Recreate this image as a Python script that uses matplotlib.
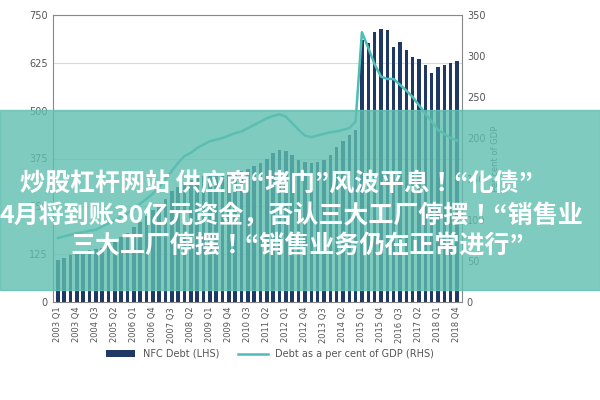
import matplotlib.pyplot as plt
from matplotlib.patches import Rectangle
from matplotlib import font_manager
import numpy as np

quarters = [f"{y} Q{q}" for y in range(2003, 2019) for q in range(1, 5)]

nfc_debt = [110, 115, 122, 128, 132, 135, 138, 140, 150, 160, 170, 180,
            195, 210, 225, 240, 255, 270, 290, 300, 310, 318, 325, 330,
            328, 330, 332, 335, 338, 342, 348, 355, 362, 375, 390, 397,
            395, 385, 372, 366, 362, 365, 372, 385, 405, 420, 436, 450,
            685, 677, 705, 713, 711, 666, 680, 658, 640, 635, 619, 598,
            614, 619, 625, 630]

debt_gdp = [78, 80, 82, 84, 85, 87, 88, 92, 96, 100, 104, 108,
            114, 120, 126, 132, 140, 150, 160, 170, 178, 182, 188, 192,
            196, 198, 200, 203, 206, 208, 212, 216, 220, 224, 227, 229,
            226, 218, 210, 203, 201, 203, 205, 207, 208, 210, 212, 220,
            329, 310, 290, 275, 272, 272, 265, 258, 250, 240, 230, 220,
            210, 205, 200, 197]

tick_idx = list(range(0, 64, 3))

# find a CJK font file
cjk = None
for f in font_manager.findSystemFonts():
    if "NotoSansCJK" in f.replace(" ", "") or "NotoSansSC" in f:
        cjk = f
        if "Bold" in f:
            break
cjk_prop = font_manager.FontProperties(fname=cjk, size=18, weight="bold") if cjk else \
    font_manager.FontProperties(family="Noto Sans CJK SC", size=18, weight="bold")

fig = plt.figure(figsize=(6, 4), dpi=100)
ax = fig.add_axes([0.088, 0.245, 0.682, 0.7175])
x = np.arange(len(quarters))
ax.bar(x, nfc_debt, width=0.55, color="#1f3864", label="NFC Debt (LHS)")
ax.set_ylim(0, 750)
ax.set_yticks([0, 125, 250, 375, 500, 625, 750])
ax.set_xlim(-0.8, 63.8)
ax.set_xticks(tick_idx)
ax.set_xticklabels([quarters[i] for i in tick_idx], rotation=90, fontsize=6, color="#555555")
ax.tick_params(axis="y", labelsize=7, colors="#555555", length=0)
ax.tick_params(axis="x", length=0)
ax.grid(axis="y", color="#d9d9d9", lw=0.8)
ax.set_axisbelow(True)
for s in ax.spines.values():
    s.set_color("#888888")

ax2 = ax.twinx()
ax2.plot(x, debt_gdp, color="#4dbdb5", lw=1.8, label="Debt as a per cent of GDP (RHS)")
ax2.set_ylim(0, 350)
ax2.set_yticks(range(0, 351, 50))
ax2.tick_params(axis="y", labelsize=7, colors="#555555", length=0)
ax2.set_ylabel("Per cent of GDP", fontsize=6, color="#555555")
for s in ax2.spines.values():
    s.set_visible(False)

h1, l1 = ax.get_legend_handles_labels()
h2, l2 = ax2.get_legend_handles_labels()
fig.legend(h1 + h2, l1 + l2, loc="center", bbox_to_anchor=(0.45, 0.115), ncol=2,
           frameon=False, fontsize=7, labelcolor="#555555", handlelength=3)

fig.patches.append(Rectangle((0, 0.275), 1, 0.45, transform=fig.transFigure,
                             color="#5fbfb0", alpha=0.8, zorder=10))
kw = dict(color="white", fontproperties=cjk_prop, zorder=11)
fig.text(0.033, 0.54, "炒股杠杆网站 供应商“堵门”风波平息！“化债”", ha="left", va="center", **kw)
fig.text(0.0, 0.46, "4月将到账30亿元资金，否认三大工厂停摆！“销售业", ha="left", va="center", **kw)
fig.text(0.495, 0.385, "三大工厂停摆！“销售业务仍在正常进行”", ha="center", va="center", **kw)

fig.savefig("out.png")
